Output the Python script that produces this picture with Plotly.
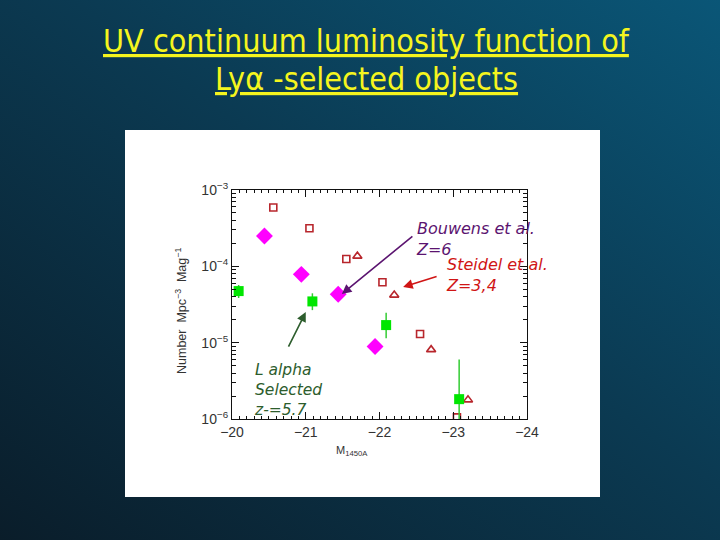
import base64
import plotly.graph_objects as go

# ---------------- data ----------------
steidel_sq_mag = [-20.56, -21.05, -21.55, -22.04, -22.55, -23.05]
steidel_sq_phi = [5.9e-4, 3.15e-4, 1.25e-4, 6.2e-5, 1.3e-5, 1.05e-6]

steidel_tri_mag = [-21.70, -22.20, -22.70, -23.20]
steidel_tri_phi = [1.36e-4, 4.2e-5, 8.1e-6, 1.78e-6]

bouwens_mag = [-20.44, -20.94, -21.44, -21.94]
bouwens_phi = [2.5e-4, 7.85e-5, 4.3e-5, 8.9e-6]

lae_mag = [-20.09, -21.09, -22.09, -23.08]
lae_phi = [4.74e-5, 3.47e-5, 1.7e-5, 1.82e-6]
lae_hi = [5.69e-5, 4.43e-5, 2.47e-5, 6.04e-6]
lae_lo = [3.85e-5, 2.67e-5, 1.14e-5, 1.0e-6]

x_ticks = [-20, -21, -22, -23, -24]
x_ticktext = ["−20", "−21", "−22", "−23", "−24"]
y_ticks = [1e-3, 1e-4, 1e-5, 1e-6]
y_ticktext = ["10<sup>−3</sup>", "10<sup>−4</sup>", "10<sup>−5</sup>", "10<sup>−6</sup>"]

# ---------------- figure ----------------
W, H = 720, 540
L, R, T, B = 232, 193, 190, 121
PW, PH = W - L - R, H - T - B


def px(xp):
    return (xp - L) / PW


def py(yp):
    return (H - B - yp) / PH


fig = go.Figure()

fig.add_trace(go.Scatter(
    x=steidel_sq_mag, y=steidel_sq_phi, mode="markers",
    marker=dict(symbol="square-open", size=7, color="#b8262c", line=dict(width=1.6)),
    showlegend=False))
fig.add_trace(go.Scatter(
    x=steidel_tri_mag, y=steidel_tri_phi, mode="markers",
    marker=dict(symbol="triangle-up-open", size=8, color="#b8262c", line=dict(width=1.6)),
    showlegend=False))
fig.add_trace(go.Scatter(
    x=bouwens_mag, y=bouwens_phi, mode="markers",
    marker=dict(symbol="diamond", size=13, color="#ff00ff"),
    showlegend=False))
fig.add_trace(go.Scatter(
    x=lae_mag, y=lae_phi, mode="markers",
    marker=dict(symbol="square", size=10, color="#00e600"),
    error_y=dict(type="data", symmetric=False,
                 array=[h - v for h, v in zip(lae_hi, lae_phi)],
                 arrayminus=[v - l for v, l in zip(lae_phi, lae_lo)],
                 color="#33cc33", thickness=1.5, width=0),
    showlegend=False))

# gradient background (svg)
svg = (
    '<svg xmlns="http://www.w3.org/2000/svg" width="720" height="540">'
    '<defs><linearGradient id="g" x1="1" y1="0" x2="0" y2="1">'
    '<stop offset="0" stop-color="#0a5677"/>'
    '<stop offset="0.45" stop-color="#0b3a52"/>'
    '<stop offset="1" stop-color="#0a1d2a"/>'
    '</linearGradient></defs>'
    '<rect width="720" height="540" fill="url(#g)"/></svg>'
)
src = "data:image/svg+xml;base64," + base64.b64encode(svg.encode()).decode()
fig.add_layout_image(dict(source=src, xref="paper", yref="paper",
                          x=px(0), y=py(0), sizex=W / PW, sizey=H / PH,
                          xanchor="left", yanchor="top", sizing="stretch",
                          layer="below"))

# white panel
fig.add_shape(type="rect", xref="paper", yref="paper",
              x0=px(125), x1=px(600), y0=py(497), y1=py(130),
              fillcolor="white", line=dict(width=0), layer="below")

anno_font = "DejaVu Sans"
annos = [
    # arrows
    dict(x=-21.49, y=-4.363, ax=72, ay=-59, showarrow=True, arrowhead=2,
         arrowsize=1.2, arrowwidth=1.6, arrowcolor="#5b1470", text=""),
    dict(x=-22.32, y=-4.271, ax=35, ay=-11, showarrow=True, arrowhead=2,
         arrowsize=1.2, arrowwidth=1.6, arrowcolor="#d01515", text=""),
    dict(x=-21.00, y=-4.599, ax=-18, ay=36, showarrow=True, arrowhead=2,
         arrowsize=1.2, arrowwidth=1.6, arrowcolor="#2d5d2d", text=""),
    # labels
    dict(x=-22.47, y=-3.35, text="<i>Bouwens et al.<br>Z=6</i>", showarrow=False,
         xanchor="left", yanchor="top", align="left",
         font=dict(family=anno_font, size=16, color="#5b1470")),
    dict(x=-22.88, y=-3.83, text="<i>Steidel et al.<br>Z=3,4</i>", showarrow=False,
         xanchor="left", yanchor="top", align="left",
         font=dict(family=anno_font, size=16, color="#d01515")),
    dict(x=-20.27, y=-5.22, text="<i>L alpha<br>Selected<br>z-=5.7</i>", showarrow=False,
         xanchor="left", yanchor="top", align="left",
         font=dict(family=anno_font, size=15.5, color="#2d5d2d")),
    # axis titles
    dict(xref="paper", yref="paper", x=px(181), y=py(311), textangle=-90,
         xanchor="center", yanchor="middle",
         text="Number  Mpc<sup>−3</sup>  Mag<sup>−1</sup>", showarrow=False,
         font=dict(family="Liberation Sans", size=12.5, color="#333333")),
    dict(xref="paper", yref="paper", x=px(334), y=py(451), xanchor="left",
         yanchor="middle",
         text="M<sub>1450A</sub>", showarrow=False,
         font=dict(family="Liberation Sans", size=11, color="#333333")),
    # title
    dict(xref="paper", yref="paper", x=px(366), y=py(41),
         xanchor="center", yanchor="middle",
         text="<u>UV continuum luminosity function of</u>", showarrow=False,
         font=dict(family="DejaVu Sans Condensed", size=32, color="#f5f51e")),
    dict(xref="paper", yref="paper", x=px(366), y=py(79),
         xanchor="center", yanchor="middle",
         text="<u>Lyα -selected objects</u>", showarrow=False,
         font=dict(family="DejaVu Sans Condensed", size=32, color="#f5f51e")),
]
for a in annos:
    fig.add_annotation(**a)

axis_common = dict(showgrid=False, zeroline=False, showline=True,
                   linecolor="#111111", linewidth=1.2, mirror="ticks",
                   ticks="inside", tickcolor="#111111",
                   tickfont=dict(family="Liberation Sans", size=14, color="#333333"))

fig.update_xaxes(range=[-20, -24], tickvals=x_ticks, ticktext=x_ticktext, ticklen=7,
                 minor=dict(dtick=0.1, ticklen=3, ticks="inside", tickcolor="#111111"),
                 **axis_common)
fig.update_yaxes(type="log", range=[-6, -3], tickvals=y_ticks, ticktext=y_ticktext,
                 ticklen=7,
                 minor=dict(dtick="D1", ticklen=4, ticks="inside", tickcolor="#111111"),
                 **axis_common)

fig.update_layout(width=W, height=H, margin=dict(l=L, r=R, t=T, b=B, autoexpand=False),
                  paper_bgcolor="#0b3346", plot_bgcolor="white", showlegend=False)

fig.write_html("out.html", config={"displayModeBar": False},
               post_script="document.body.style.margin='0';document.body.style.background='#0b3346';")
